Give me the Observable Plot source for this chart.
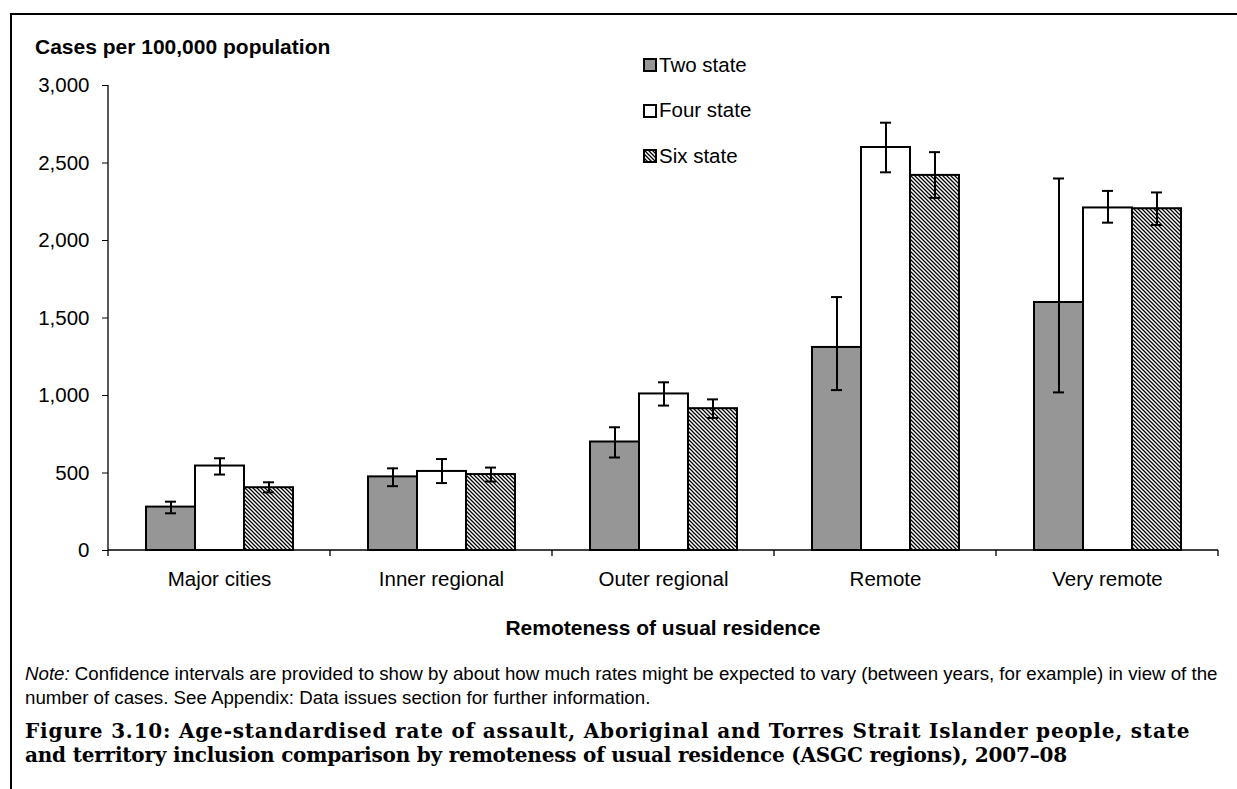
<!DOCTYPE html>
<html>
<head>
<meta charset="utf-8">
<script src="https://cdn.jsdelivr.net/npm/d3@7"></script>
<script src="https://cdn.jsdelivr.net/npm/@observablehq/plot@0.6"></script>
<style>
  body { margin: 0; background: #fff; font-family: Arial, "Liberation Sans", sans-serif; color: #000; }
  #page { position: relative; width: 1237px; height: 789px; overflow: hidden; background: #fff; }
  #frame { position: absolute; left: 10px; top: 13px; width: 1300px; height: 900px; border: 2px solid #000; box-sizing: border-box; pointer-events: none; }
  #chart { position: absolute; left: 0; top: 0; }
  #ylabel { position: absolute; left: 35px; top: 36px; font-size: 21px; font-weight: bold; line-height: 1; white-space: nowrap; }
  #xlabel { position: absolute; left: 107px; width: 1112px; top: 617px; text-align: center; font-size: 21px; font-weight: bold; line-height: 1; white-space: nowrap; }
  #legend { position: absolute; left: 643px; top: 54px; font-size: 20.5px; line-height: 1; }
  #legend .row { display: flex; align-items: center; height: 22px; margin-bottom: 23.5px; white-space: nowrap; }
  #legend svg { margin-right: 2px; display: block; }
  #note { position: absolute; left: 25px; top: 662px; font-size: 18.7px; line-height: 24px; white-space: nowrap; }
  .cap { position: absolute; left: 25px; font-family: "DejaVu Serif", "Liberation Serif", serif; font-weight: bold; font-size: 20px; line-height: 24px; height: 24px; white-space: nowrap; }
  #cap1 { top: 719px; letter-spacing: 0.8px; }
  #cap2 { top: 743px; letter-spacing: -0.2px; }
</style>
</head>
<body>
<div id="page">
  <div id="chart"></div>
  <div id="ylabel">Cases per 100,000 population</div>
  <div id="legend"></div>
  <div id="xlabel">Remoteness of usual residence</div>
  <div id="note"><i>Note:</i> Confidence intervals are provided to show by about how much rates might be expected to vary (between years, for example) in view of the<br>number of cases. See Appendix: Data issues section for further information.</div>
  <div class="cap" id="cap1">Figure 3.10: Age-standardised rate of assault, Aboriginal and Torres Strait Islander people, state</div>
  <div class="cap" id="cap2">and territory inclusion comparison by remoteness of usual residence (ASGC regions), 2007–08</div>
  <div id="frame"></div>
</div>
<script>
// ---- Data ----
const categories = ["Major cities", "Inner regional", "Outer regional", "Remote", "Very remote"];
const series = ["Two state", "Four state", "Six state"];
const twoState  = [280, 475, 700, 1310, 1600];
const twoLow    = [240, 415, 600, 1035, 1020];
const twoHigh   = [315, 530, 795, 1635, 2400];
const fourState = [545, 510, 1010, 2600, 2210];
const fourLow   = [490, 435, 935, 2440, 2115];
const fourHigh  = [595, 590, 1085, 2760, 2320];
const sixState  = [405, 490, 915, 2420, 2205];
const sixLow    = [375, 445, 855, 2275, 2100];
const sixHigh   = [440, 535, 975, 2570, 2310];
const yTicks = [0, 500, 1000, 1500, 2000, 2500, 3000];
const seriesFills = ["#969696", "#ffffff", "url(#hatch)"];

const seriesData = [
  [twoState, twoLow, twoHigh],
  [fourState, fourLow, fourHigh],
  [sixState, sixLow, sixHigh]
];
const data = [];
categories.forEach((cat, i) => {
  series.forEach((s, j) => {
    const [v, lo, hi] = seriesData[j];
    data.push({cat, series: s, value: v[i], lo: lo[i], hi: hi[i]});
  });
});

// Axis lines + category boundary ticks, drawn once from the plot's own scales
function axisLines(index, scales) {
  const {fx, y} = scales;
  const bw = typeof fx.bandwidth === "function" ? fx.bandwidth() : fx.bandwidth;
  const xs = categories.map(c => fx(c));
  const xEnd = xs[xs.length - 1] + bw;
  const y0 = y(0), yTop = y(yTicks[yTicks.length - 1]);
  const g = d3.create("svg:g").attr("stroke", "#000").attr("stroke-width", 1.3).attr("fill", "none");
  g.append("line").attr("x1", xs[0]).attr("x2", xs[0]).attr("y1", yTop).attr("y2", y0 + 6);
  g.append("line").attr("x1", xs[0]).attr("x2", xEnd).attr("y1", y0).attr("y2", y0);
  for (const x of [...xs.slice(1), xEnd]) {
    g.append("line").attr("x1", x).attr("x2", x).attr("y1", y0).attr("y2", y0 + 6);
  }
  return g.node();
}

const chart = Plot.plot({
  width: 1237,
  height: 640,
  marginLeft: 107,
  marginRight: 18,
  marginTop: 85,
  marginBottom: 90,
  style: { fontFamily: "Arial, 'Liberation Sans', sans-serif", fontSize: "20.5px", color: "#000", background: "transparent", overflow: "visible" },
  fx: { domain: categories, padding: 0, axis: "bottom", label: null, tickSize: 0, tickPadding: 21 },
  x: { domain: series, axis: null, paddingInner: 0, paddingOuter: 0.75 },
  y: { domain: [0, 3000], ticks: yTicks, tickFormat: d3.format(","), tickSize: 6, tickPadding: 13, label: null },
  color: { domain: series, range: seriesFills },
  marks: [
    Plot.barY(data, { fx: "cat", x: "series", y: "value", fill: "series", stroke: "#000", strokeWidth: 2 }),
    Plot.ruleX(data, { fx: "cat", x: "series", y1: "lo", y2: "hi", stroke: "#000", strokeWidth: 2 }),
    Plot.tickY(data, { fx: "cat", x: "series", y: "lo", stroke: "#000", strokeWidth: 2, insetLeft: 19, insetRight: 19 }),
    Plot.tickY(data, { fx: "cat", x: "series", y: "hi", stroke: "#000", strokeWidth: 2, insetLeft: 19, insetRight: 19 }),
    Plot.frame({ facet: "super", render: (index, scales) => axisLines(index, scales) })
  ]
});

// Hatch pattern definition
const defs = d3.select(chart).insert("defs", ":first-child");
const pat = defs.append("pattern").attr("id", "hatch").attr("patternUnits", "userSpaceOnUse").attr("width", 4).attr("height", 4);
pat.append("rect").attr("width", 4).attr("height", 4).attr("fill", "#fff");
pat.append("path").attr("d", "M-1,-1L5,5M-1,3L1,5M3,-1L5,1").attr("stroke", "#000").attr("stroke-width", 1.3);

document.getElementById("chart").appendChild(chart);

// Legend
const legend = d3.select("#legend");
series.forEach((s, j) => {
  const row = legend.append("div").attr("class", "row");
  const sw = row.append("svg").attr("width", 14).attr("height", 14);
  sw.append("rect").attr("x", 1).attr("y", 1).attr("width", 12).attr("height", 12)
    .attr("fill", seriesFills[j]).attr("stroke", "#000").attr("stroke-width", 2);
  row.append("span").text(s);
});
</script>
</body>
</html>
